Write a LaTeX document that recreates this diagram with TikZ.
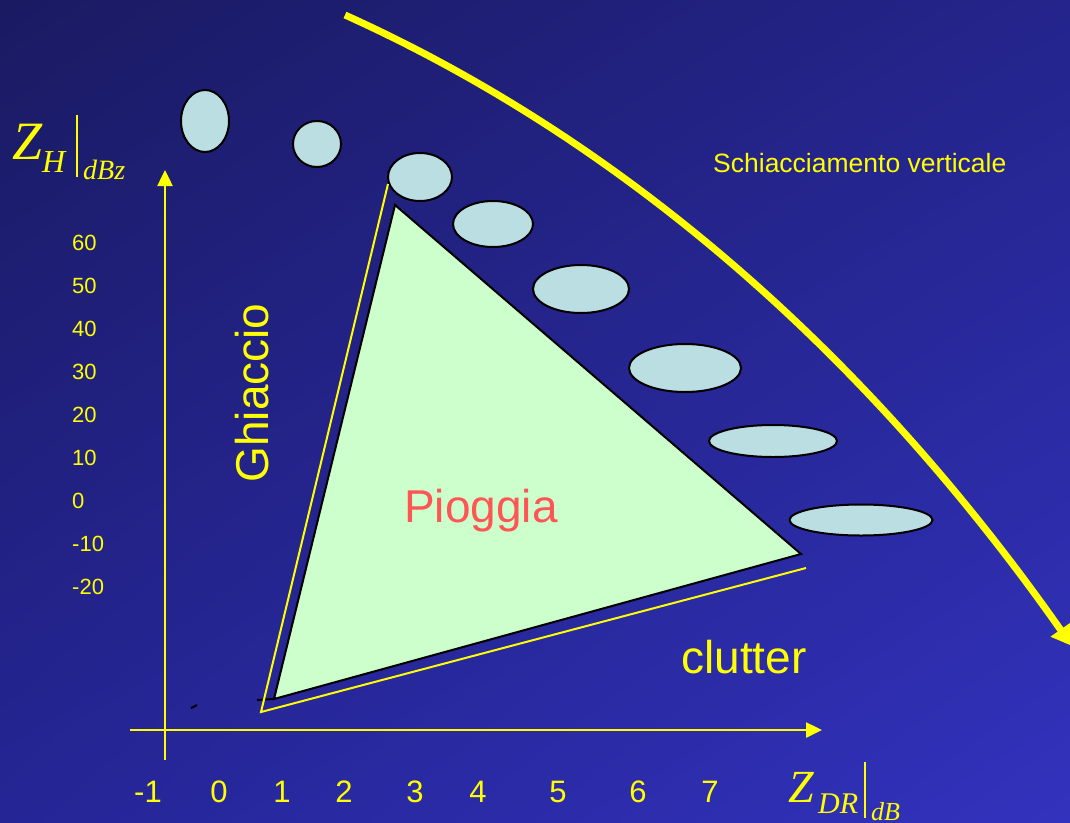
\documentclass[tikz,border=0pt]{standalone}
\usepackage{fontspec}
\setmainfont{Liberation Sans}
\newfontfamily\tnr{Liberation Serif}
\usetikzlibrary{arrows.meta,positioning,shapes.geometric,shadings}
\definecolor{bgTL}{RGB}{26,26,98}
\definecolor{bgTR}{RGB}{36,36,140}
\definecolor{bgBL}{RGB}{37,37,150}
\definecolor{bgBR}{RGB}{50,50,190}
\definecolor{rYellow}{RGB}{255,255,0}
\definecolor{rBlob}{RGB}{186,222,226}
\definecolor{rRain}{RGB}{204,255,204}
\definecolor{rRed}{RGB}{255,85,85}

\begin{document}
\begin{tikzpicture}[
					x=1pt,y=-1pt,
					>={Triangle[length=16pt,width=15pt]},
					ax/.style={draw=rYellow,line width=2.5pt,->},
					blob/.style={
						ellipse,
						draw=black,
						line width=2pt,
						fill=rBlob,
						inner sep=0pt
					},
					lab/.style={text=rYellow,inner sep=0pt,anchor=base west},
					ylab/.style={lab,font=\fontsize{22}{26}\selectfont},
					xlab/.style={lab,anchor=base,font=\fontsize{31}{36}\selectfont},
					big/.style={inner sep=0pt,anchor=base,font=\fontsize{46}{52}\selectfont}
					]
					\useasboundingbox (0,0) rectangle (1070,822);
					\clip (0,0) rectangle (1070,822);
					\shade[upper left=bgTL,upper right=bgTR,lower left=bgBL,lower right=bgBR] (0,0) rectangle (1070,822);
					
					% axes
					\coordinate (ybot) at (165,760);
					\coordinate (ytop) at (165,170);
					\coordinate (xleft) at (130,730);
					\coordinate (xright) at (822,730);
					\draw[ax] (ybot) -- (ytop);
					\draw[ax] (xleft) -- (xright);
					
					\foreach \v [count=\i] in {60,50,...,-20}
					\node[ylab] (y\i) at (72,{250+43*(\i-1)}) {\v};
					\foreach \v/\px [count=\i] in {-1/148,0/219,1/282,2/344,3/415,4/478,5/558,6/638,7/710}
					\node[xlab] (x\i) at (\px,802) {\v};
					
					% axis names
					\node[lab,font=\tnr\itshape\fontsize{54}{58}\selectfont] (zh) at (12,159) {Z};
					\node[lab,font=\tnr\itshape\fontsize{32}{36}\selectfont] (zhs) at (42,172) {H};
					\draw[rYellow,line width=1.5pt] (77,115) -- (77,177);
					\node[lab,font=\tnr\itshape\fontsize{28}{32}\selectfont] (zhu) at (83,179) {dBz};
					\node[lab,font=\tnr\itshape\fontsize{46}{50}\selectfont] (zdr) at (788,802) {Z};
					\node[lab,font=\tnr\itshape\fontsize{30}{34}\selectfont] (zdrs) at (818,813) {DR};
					\draw[rYellow,line width=1.5pt] (865,762) -- (865,818);
					\node[lab,font=\tnr\itshape\fontsize{26}{30}\selectfont] (zdru) at (871,820) {dB};
					
					% drops
					\node[blob,minimum width=48,minimum height=62] (b1) at (205,121) {};
					\node[blob,minimum width=48,minimum height=46] (b2) at (317,144) {};
					\node[blob,minimum width=64,minimum height=48] (b3) at (420,177) {};
					\node[blob,minimum width=80,minimum height=46] (b4) at (493,224) {};
					\node[blob,minimum width=96,minimum height=48] (b5) at (581,289) {};
					\node[blob,minimum width=112,minimum height=48] (b6) at (685,368) {};
					\node[blob,minimum width=128,minimum height=32] (b7) at (773,441) {};
					\node[blob,minimum width=143,minimum height=31] (b8) at (861,520) {};
					
					% rain region
					\coordinate (t1) at (395,205);
					\coordinate (t2) at (801,554);
					\coordinate (t3) at (274,699);
					\fill[rRain] (t1) -- (t2) -- (t3) -- cycle;
					\draw[black,line width=2pt,line join=miter] (t1) -- (t2) -- (t3) -- cycle;
					\draw[black,line width=2pt] (257,700) -- (t3);
					\draw[black,line width=2pt] (191,708) -- (197,705);
					\coordinate (c1) at (388,184);
					\coordinate (c2) at (261,712);
					\coordinate (c3) at (806,568);
					\draw[rYellow,line width=2pt] (c1) -- (c2) -- (c3);
					
					\draw[rYellow,line width=7pt,-{Triangle[length=20pt,width=23pt]}] (345,15) .. controls (600,130) and (850,330) .. (1072,646);
					
					\node[lab,font=\fontsize{26.5}{30}\selectfont] (sv) at (713,172) {Schiacciamento verticale};
					\node[big,text=rYellow,rotate=90,anchor=center] (gh) at (252,393) {Ghiaccio};
					\node[big,text=rRed] (pg) at (481,522) {Pioggia};
					\node[big,text=rYellow] (cl) at (744,673) {clutter};
					
				\end{tikzpicture}
\end{document}
